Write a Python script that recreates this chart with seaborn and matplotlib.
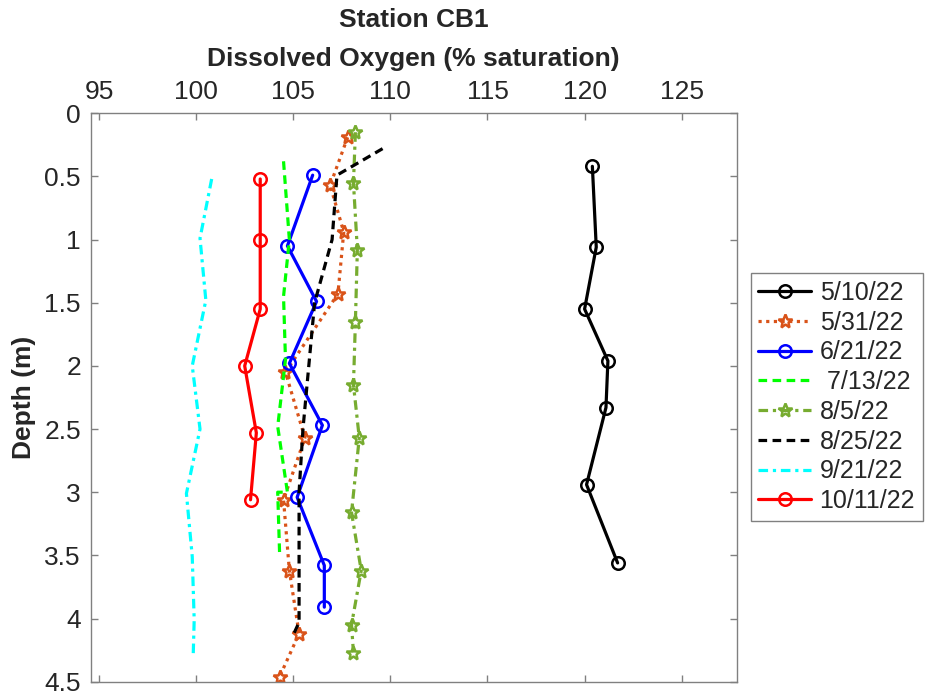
import matplotlib
matplotlib.use('Agg')
import matplotlib.pyplot as plt
import seaborn as sns
import pandas as pd

# -------------------------------
# Data: DO % saturation vs depth (m)
# -------------------------------
dates = ['5/10/22', '5/31/22', '6/21/22', ' 7/13/22',
         '8/5/22', '8/25/22', '9/21/22', '10/11/22']

do_0510 = [120.4, 120.6, 120.0, 121.2, 121.1, 120.1, 121.7]
depth_0510 = [0.42, 1.06, 1.55, 1.96, 2.33, 2.94, 3.56]

do_0531 = [107.8, 106.9, 107.6, 107.3, 104.6, 105.6, 104.5, 104.8, 105.3, 104.3]
depth_0531 = [0.19, 0.57, 0.94, 1.43, 2.05, 2.57, 3.06, 3.62, 4.12, 4.46]

do_0621 = [106.0, 104.7, 106.2, 104.8, 106.5, 105.2, 106.6, 106.6]
depth_0621 = [0.49, 1.05, 1.49, 1.98, 2.47, 3.04, 3.58, 3.91]

do_0713 = [104.5, 104.8, 104.5, 104.6, 104.2, 104.7, 104.2, 104.3]
depth_0713 = [0.38, 1.0, 1.45, 1.95, 2.48, 3.0, 3.0, 3.5]

do_0805 = [108.2, 108.1, 108.3, 108.2, 108.1, 108.4, 108.0, 108.5, 108.0, 108.1]
depth_0805 = [0.15, 0.55, 1.08, 1.65, 2.15, 2.57, 3.16, 3.62, 4.05, 4.27]

do_0825 = [109.6, 107.25, 107.0, 106.1, 105.8, 105.5, 105.3, 105.3, 105.3, 105.0]
depth_0825 = [0.28, 0.49, 1.0, 1.5, 2.0, 2.5, 3.0, 3.5, 4.03, 4.13]

do_0921 = [100.8, 100.2, 100.5, 99.8, 100.2, 99.5, 99.8, 99.9, 99.85]
depth_0921 = [0.52, 0.99, 1.48, 2.0, 2.5, 3.01, 3.51, 4.01, 4.29]

do_1011 = [103.3, 103.3, 103.3, 102.5, 103.1, 102.8]
depth_1011 = [0.52, 1.0, 1.55, 2.0, 2.53, 3.06]

do_all = [do_0510, do_0531, do_0621, do_0713, do_0805, do_0825, do_0921, do_1011]
depth_all = [depth_0510, depth_0531, depth_0621, depth_0713,
             depth_0805, depth_0825, depth_0921, depth_1011]

x_ticks = [95, 100, 105, 110, 115, 120, 125]
y_ticks = [0, 0.5, 1, 1.5, 2, 2.5, 3, 3.5, 4, 4.5]
y_tick_labels = ['0', '0.5', '1', '1.5', '2', '2.5', '3', '3.5', '4', '4.5']

# line styles (MATLAB look)
dot = (0, (1, 1.4))
dash = (0, (2.7, 1.7))
dashdot = (0, (3, 1.5, 1, 1.5))
styles = [
    ('black', '-', 'o'),
    ('#D95319', dot, '*'),
    ('blue', '-', 'o'),
    ('#00FF00', dash, None),
    ('#77AC30', dashdot, '*'),
    ('black', dash, None),
    ('cyan', dashdot, None),
    ('red', '-', 'o'),
]

# -------------------------------
# Plot
# -------------------------------
sns.set_style('white')
plt.rcParams['font.family'] = ['Liberation Sans', 'DejaVu Sans']

fig = plt.figure(figsize=(9.27, 6.98), dpi=100)
ax = fig.add_axes([0.0978, 0.0234, 0.6969, 0.8143])

for lab, xv, yv, (col, ls, mk) in zip(dates, do_all, depth_all, styles):
    df = pd.DataFrame({'DO': xv, 'Depth': yv})
    sns.lineplot(data=df, x='DO', y='Depth', sort=False, estimator=None,
                 ax=ax, color=col, linestyle=ls, linewidth=2.3,
                 marker=mk, markersize=9 if mk == 'o' else 10,
                 markerfacecolor='none', markeredgecolor=col,
                 markeredgewidth=1.8, label=lab)

ax.set_xlim(94.57, 127.83)
ax.set_ylim(4.5, 0)
ax.set_xticks(x_ticks)
ax.set_yticks(y_ticks)
ax.set_yticklabels(y_tick_labels)

ax.xaxis.tick_top()
ax.xaxis.set_label_position('top')
ax.tick_params(axis='both', which='both', direction='in', length=5,
               width=1, color='#808080', labelsize=19, labelcolor='#262626',
               top=True, bottom=True, left=True, right=True,
               labeltop=True, labelbottom=False)
ax.tick_params(axis='x', pad=7)
ax.tick_params(axis='y', pad=7)
for sp in ax.spines.values():
    sp.set_visible(True)
    sp.set_color('#808080')
    sp.set_linewidth(1)

ax.set_xlabel('Dissolved Oxygen (% saturation)', fontsize=19,
              fontweight='bold', labelpad=10)
ax.set_ylabel('Depth (m)', fontsize=19, fontweight='bold', labelpad=6)
ax.set_title('Station CB1', fontsize=19, fontweight='bold', pad=14)

leg = ax.legend(loc='upper left', bbox_to_anchor=(0.81, 0.6085),
                bbox_transform=fig.transFigure, borderaxespad=0,
                fontsize=18, handlelength=2.1, handletextpad=0.35,
                labelspacing=0.23, numpoints=1, fancybox=False,
                framealpha=1, edgecolor='#808080', borderpad=0.3)
leg.get_frame().set_linewidth(1)

fig.savefig('out.png', dpi=100)
plt.close(fig)
